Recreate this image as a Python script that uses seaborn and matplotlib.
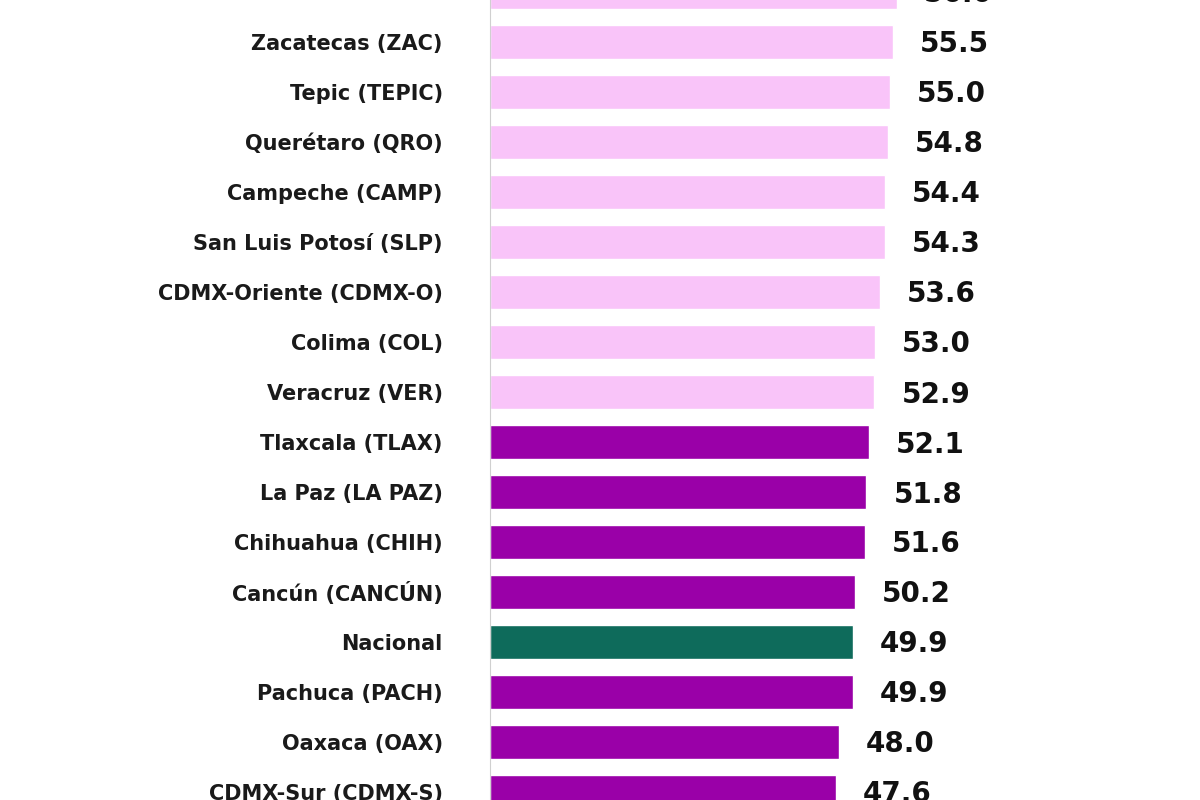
import matplotlib
matplotlib.use("Agg")
import matplotlib.pyplot as plt
import seaborn as sns
import pandas as pd

ciudades = ["Culiacán (CUL)", "Zacatecas (ZAC)", "Tepic (TEPIC)", "Querétaro (QRO)",
            "Campeche (CAMP)", "San Luis Potosí (SLP)", "CDMX-Oriente (CDMX-O)",
            "Colima (COL)", "Veracruz (VER)", "Tlaxcala (TLAX)", "La Paz (LA PAZ)",
            "Chihuahua (CHIH)", "Cancún (CANCÚN)", "Nacional", "Pachuca (PACH)",
            "Oaxaca (OAX)", "CDMX-Sur (CDMX-S)"]
valores = [56.0, 55.5, 55.0, 54.8, 54.4, 54.3, 53.6, 53.0, 52.9,
           52.1, 51.8, 51.6, 50.2, 49.9, 49.9, 48.0, 47.6]
grupo = ["alto"] * 9 + ["medio"] * 4 + ["nacional"] + ["medio"] * 3

colores = {"alto": "#F9C4F9", "medio": "#9A00A8", "nacional": "#0E6B5B"}

df = pd.DataFrame({"ciudad": ciudades, "valor": valores, "grupo": grupo})

sns.set_style("white")
fig = plt.figure(figsize=(12, 8), dpi=100)
ax = fig.add_axes([490 / 1200, 0, 710 / 1200, 1])

sns.barplot(data=df, x="valor", y="ciudad", hue="grupo", palette=colores,
            dodge=False, width=0.68, saturation=1, legend=False, ax=ax)

for i, v in enumerate(valores):
    ax.text(v + 3.7, i + 0.05, f"{v:.1f}", va="center", ha="left",
            fontsize=20, fontweight="bold", color="#111111")

ax.set_xlim(0, 97.7)
ax.set_ylim(16.16, 0.16)
ax.set_xlabel("")
ax.set_ylabel("")
ax.set_xticks([])
ax.tick_params(axis="y", length=0, pad=34)
for lab in ax.get_yticklabels():
    lab.set_fontweight("bold")
    lab.set_fontsize(15)
    lab.set_color("#1a1a1a")
for s in ["top", "right", "bottom"]:
    ax.spines[s].set_visible(False)
ax.spines["left"].set_color("#d0d0d0")

fig.savefig("out.png", dpi=100)
